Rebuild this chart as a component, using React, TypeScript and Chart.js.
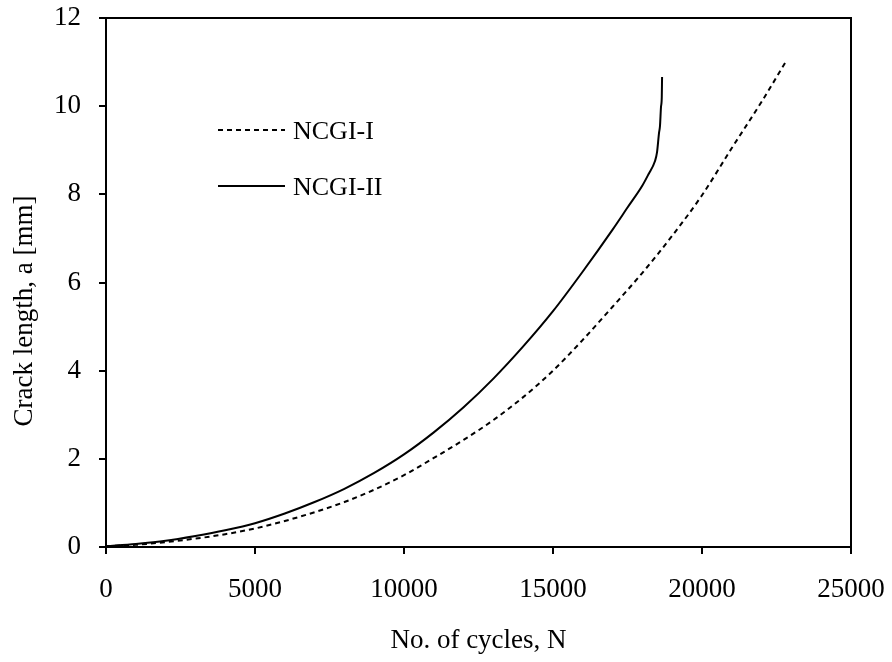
import React, { useEffect, useRef } from "react";
import { Chart, registerables } from "chart.js";

Chart.register(...registerables);

const seriesNames = ["NCGI-I", "NCGI-II"];
const xTitle = "No. of cycles, N";
const yTitle = "Crack length, a [mm]";

const cyclesI = [0, 1000, 2000, 3000, 4000, 5000, 6000, 7000, 8000, 9000, 10000, 11000, 12000, 13000, 14000, 15000, 16000, 17000, 18000, 19000, 20000, 21000, 22000, 22850];
const crackI = [0.02, 0.05, 0.11, 0.19, 0.29, 0.42, 0.59, 0.79, 1.02, 1.3, 1.63, 2.02, 2.43, 2.88, 3.4, 4.0, 4.7, 5.45, 6.22, 7.06, 7.98, 9.05, 10.1, 11.05];

const cyclesII = [0, 1000, 2000, 3000, 4000, 5000, 6000, 7000, 8000, 9000, 10000, 11000, 12000, 13000, 14000, 15000, 16000, 17000, 17500, 18000, 18200, 18420, 18490, 18557, 18590, 18624, 18650, 18660];
const crackII = [0.02, 0.07, 0.14, 0.25, 0.38, 0.54, 0.76, 1.02, 1.32, 1.68, 2.1, 2.6, 3.17, 3.82, 4.55, 5.35, 6.25, 7.2, 7.7, 8.2, 8.45, 8.75, 8.95, 9.39, 9.55, 9.98, 10.2, 10.66];

const xTicks = [0, 5000, 10000, 15000, 20000, 25000];
const yTicks = [0, 2, 4, 6, 8, 10, 12];

const FONT = "'Liberation Serif', 'Times New Roman', serif";

export default function App() {
  const ref = useRef<HTMLCanvasElement | null>(null);

  useEffect(() => {
    if (!ref.current) return;
    const toPts = (xs: number[], ys: number[]) => xs.map((x, i) => ({ x, y: ys[i] }));

    const framePlugin = {
      id: "frameAndLegend",
      afterDatasetsDraw(chart: any) {
        const { ctx, chartArea } = chart;
        ctx.save();
        ctx.strokeStyle = "#000";
        ctx.lineWidth = 2;
        ctx.setLineDash([]);
        ctx.strokeRect(chartArea.left, chartArea.top, chartArea.right - chartArea.left, chartArea.bottom - chartArea.top);
        // legend inside plot area
        const x0 = chartArea.left + 112;
        const x1 = x0 + 67;
        const rows = [130, 186];
        chart.data.datasets.forEach((ds: any, i: number) => {
          const y = rows[i];
          ctx.beginPath();
          ctx.setLineDash(ds.borderDash || []);
          ctx.lineWidth = ds.borderWidth;
          ctx.strokeStyle = "#000";
          ctx.moveTo(x0, y);
          ctx.lineTo(x1, y);
          ctx.stroke();
          ctx.setLineDash([]);
          ctx.fillStyle = "#000";
          ctx.font = `26px ${FONT}`;
          ctx.textAlign = "left";
          ctx.textBaseline = "middle";
          ctx.fillText(ds.label, x1 + 8, y + 2);
        });
        // y axis title
        ctx.translate(25, 311);
        ctx.rotate(-Math.PI / 2);
        ctx.font = `27px ${FONT}`;
        ctx.textAlign = "center";
        ctx.textBaseline = "middle";
        ctx.fillText(yTitle, 0, 0);
        ctx.restore();
      },
    };

    const zeroPad = (s: any) => {
      s.paddingTop = 0;
      s.paddingBottom = 0;
      s.paddingLeft = 0;
      s.paddingRight = 0;
    };

    const chart = new Chart(ref.current, {
      type: "line",
      data: {
        datasets: [
          { label: seriesNames[0], data: toPts(cyclesI, crackI), borderColor: "#000", borderWidth: 2, borderDash: [5, 4], pointRadius: 0, cubicInterpolationMode: "monotone", fill: false },
          { label: seriesNames[1], data: toPts(cyclesII, crackII), borderColor: "#000", borderWidth: 2, pointRadius: 0, cubicInterpolationMode: "monotone", fill: false },
        ],
      },
      options: {
        responsive: false,
        animation: false,
        layout: { padding: { left: 0, right: 41, top: 18, bottom: 0 } },
        plugins: { legend: { display: false }, tooltip: { enabled: false } },
        scales: {
          x: {
            type: "linear", min: 0, max: 25000,
            afterBuildTicks: (s: any) => { s.ticks = xTicks.map((v) => ({ value: v })); },
            afterFit: (s: any) => { s.height = 115; zeroPad(s); },
            ticks: { color: "#000", font: { family: FONT, size: 27 }, padding: 20, maxRotation: 0, callback: (v: any) => String(v) },
            grid: { display: true, drawOnChartArea: false, drawTicks: true, tickLength: 7, color: "#000", lineWidth: 2 },
            border: { display: true, color: "#000", width: 2 },
            title: { display: true, text: xTitle, color: "#000", font: { family: FONT, size: 27 }, padding: { top: 0, bottom: 5 } },
          },
          y: {
            type: "linear", min: 0, max: 12,
            afterBuildTicks: (s: any) => { s.ticks = yTicks.map((v) => ({ value: v })); },
            afterFit: (s: any) => { s.width = 106; zeroPad(s); },
            ticks: { color: "#000", font: { family: FONT, size: 27 }, padding: 18, callback: (v: any) => String(v) },
            grid: { display: true, drawOnChartArea: false, drawTicks: true, tickLength: 7, color: "#000", lineWidth: 2 },
            border: { display: true, color: "#000", width: 2 },
            title: { display: false },
          },
        },
      },
      plugins: [framePlugin],
    } as any);
    return () => chart.destroy();
  }, []);

  return (
    <div style={{ position: "fixed", left: 0, top: 0, width: 892, height: 662, background: "#fff" }}>
      <canvas ref={ref} width={892} height={662} style={{ width: 892, height: 662, display: "block" }} aria-label={`${yTitle} vs ${xTitle}`} />
    </div>
  );
}
